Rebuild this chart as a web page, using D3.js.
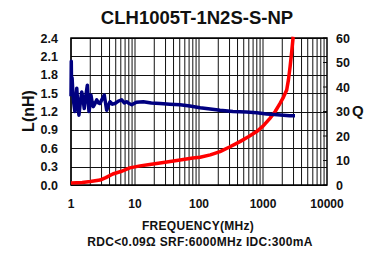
<!DOCTYPE html>
<html>
<head>
<meta charset="utf-8">
<script src="https://cdn.jsdelivr.net/npm/d3@7"></script>
<style>
  body { margin: 0; background: #fff; }
  text { font-family: Arial, "Liberation Sans", sans-serif; font-weight: bold; fill: #111; }
</style>
</head>
<body>
<svg id="chart" width="381" height="257"></svg>
<script>
const title = 'CLH1005T-1N2S-S-NP';
const xTicks = [1, 10, 100, 1000, 10000];
const lTicks = [0, 0.3, 0.6, 0.9, 1.2, 1.5, 1.8, 2.1, 2.4];
const qTicks = [0, 10, 20, 30, 40, 50, 60];

// inductance (nH) vs frequency (MHz)
const lFreq = [1.0, 1.01, 1.02, 1.04, 1.07, 1.1, 1.15, 1.19, 1.23, 1.28, 1.33, 1.4, 1.47, 1.54, 1.61, 1.7, 1.8, 1.85, 1.91, 1.98, 2.05, 2.14, 2.23, 2.37, 2.52, 2.68, 2.84, 3.05, 3.31, 3.45, 3.61, 3.85, 4.07, 4.45, 4.86, 5.5, 6.2, 6.8, 7.4, 8.1, 8.9, 10.5, 13.5, 18, 24.6, 35, 50.5, 72, 104, 150, 213, 338, 550, 800, 1140, 1500, 2090, 2600, 3160];
const lVals = [1.45, 2.02, 1.6, 1.75, 1.5, 1.35, 1.2, 1.4, 1.58, 1.3, 1.14, 1.35, 1.52, 1.4, 1.25, 1.45, 1.63, 1.4, 1.2, 1.3, 1.47, 1.35, 1.28, 1.33, 1.39, 1.34, 1.33, 1.4, 1.47, 1.35, 1.22, 1.3, 1.36, 1.32, 1.33, 1.37, 1.39, 1.34, 1.36, 1.33, 1.31, 1.35, 1.36, 1.34, 1.33, 1.32, 1.31, 1.29, 1.26, 1.24, 1.22, 1.2, 1.19, 1.18, 1.16, 1.15, 1.14, 1.13, 1.13];

// Q vs frequency (MHz)
const qFreq = [1, 1.5, 2, 2.84, 3.5, 4.5, 6, 8.3, 12, 17, 24.6, 40, 60, 80, 104, 150, 213, 300, 436, 600, 796, 1000, 1283, 1550, 1846, 2100, 2346, 2500, 2650, 2800, 2960];
const qVals = [0.8, 1.0, 1.4, 2.0, 3.0, 4.5, 5.5, 7.0, 7.8, 8.4, 9.0, 9.8, 10.5, 11.0, 11.3, 12.3, 13.6, 15.5, 17.7, 19.8, 21.8, 24.0, 27.2, 30.0, 33.3, 36.0, 38.8, 43.0, 48.3, 54.0, 60.5];

const svg = d3.select('#chart');
const plotL = 71, plotR = 327, plotT = 38, plotB = 185;

const x = d3.scaleLog().domain([1, 10000]).range([plotL, plotR]);
const yL = d3.scaleLinear().domain([0, 2.4]).range([plotB, plotT]);
const yQ = d3.scaleLinear().domain([0, 60]).range([plotB, plotT]);

// vertical grid, every 1..9 per decade
const gridX = [];
for (let d = 1; d < 10000; d *= 10) {
    for (let k = 1; k < 10; k++) gridX.push(d * k);
}
svg.append('g').selectAll('line').data(gridX).enter().append('line')
    .attr('x1', d => x(d)).attr('x2', d => x(d))
    .attr('y1', plotT).attr('y2', plotB)
    .attr('stroke', '#111').attr('stroke-width', 1);

// horizontal grid
svg.append('g').selectAll('line').data(lTicks).enter().append('line')
    .attr('x1', plotL).attr('x2', plotR)
    .attr('y1', d => Math.round(yL(d)) + 0.5).attr('y2', d => Math.round(yL(d)) + 0.5)
    .attr('stroke', '#111').attr('stroke-width', 1);

// Q ticks on the right edge
svg.append('g').selectAll('line').data(qTicks).enter().append('line')
    .attr('x1', plotR - 4).attr('x2', plotR)
    .attr('y1', d => yQ(d)).attr('y2', d => yQ(d))
    .attr('stroke', '#111');

// frame
svg.append('rect')
    .attr('x', plotL).attr('y', plotT)
    .attr('width', plotR - plotL).attr('height', plotB - plotT)
    .attr('fill', 'none').attr('stroke', '#000').attr('stroke-width', 1.5);

const lineL = d3.line().x((d, i) => x(lFreq[i])).y(d => yL(d));
const lineQ = d3.line().x((d, i) => x(qFreq[i])).y(d => yQ(d));

svg.append('path').datum(qVals)
    .attr('d', lineQ)
    .attr('fill', 'none').attr('stroke', '#ff0000').attr('stroke-width', 3.5)
    .attr('stroke-linejoin', 'round');

svg.append('path').datum(lVals)
    .attr('d', lineL)
    .attr('fill', 'none').attr('stroke', '#000080').attr('stroke-width', 3.5)
    .attr('stroke-linejoin', 'round');

// left tick labels
svg.append('g').selectAll('text').data(lTicks).enter().append('text')
    .attr('x', 58).attr('y', d => yL(d)).attr('dy', '0.36em')
    .attr('text-anchor', 'end').style('font-size', '12.5px')
    .text(d => d.toFixed(1));

// right tick labels
svg.append('g').selectAll('text').data(qTicks).enter().append('text')
    .attr('x', 336).attr('y', d => yQ(d)).attr('dy', '0.36em')
    .attr('text-anchor', 'start').style('font-size', '12.5px')
    .text(d => d);

// x tick labels
svg.append('g').selectAll('text').data(xTicks).enter().append('text')
    .attr('x', d => x(d)).attr('y', 204).attr('dy', '0.36em')
    .attr('text-anchor', 'middle').style('font-size', '12px')
    .text(d => d);

svg.append('text')
    .attr('x', 197).attr('y', 24)
    .attr('text-anchor', 'middle').style('font-size', '18.5px')
    .text(title);

svg.append('text')
    .attr('transform', 'translate(34,111) rotate(-90)')
    .attr('text-anchor', 'middle').style('font-size', '16px')
    .text('L(nH)');

svg.append('text')
    .attr('x', 352).attr('y', 111).attr('dy', '0.36em')
    .style('font-size', '15px')
    .text('Q');

svg.append('text')
    .attr('x', 198).attr('y', 226).attr('dy', '0.36em')
    .attr('text-anchor', 'middle').style('font-size', '12px')
    .style('letter-spacing', '0.3px')
    .text('FREQUENCY(MHz)');

svg.append('text')
    .attr('x', 200).attr('y', 242).attr('dy', '0.36em')
    .attr('text-anchor', 'middle').style('font-size', '12px')
    .style('letter-spacing', '0.3px')
    .text('RDC<0.09Ω SRF:6000MHz IDC:300mA');
</script>
</body>
</html>
